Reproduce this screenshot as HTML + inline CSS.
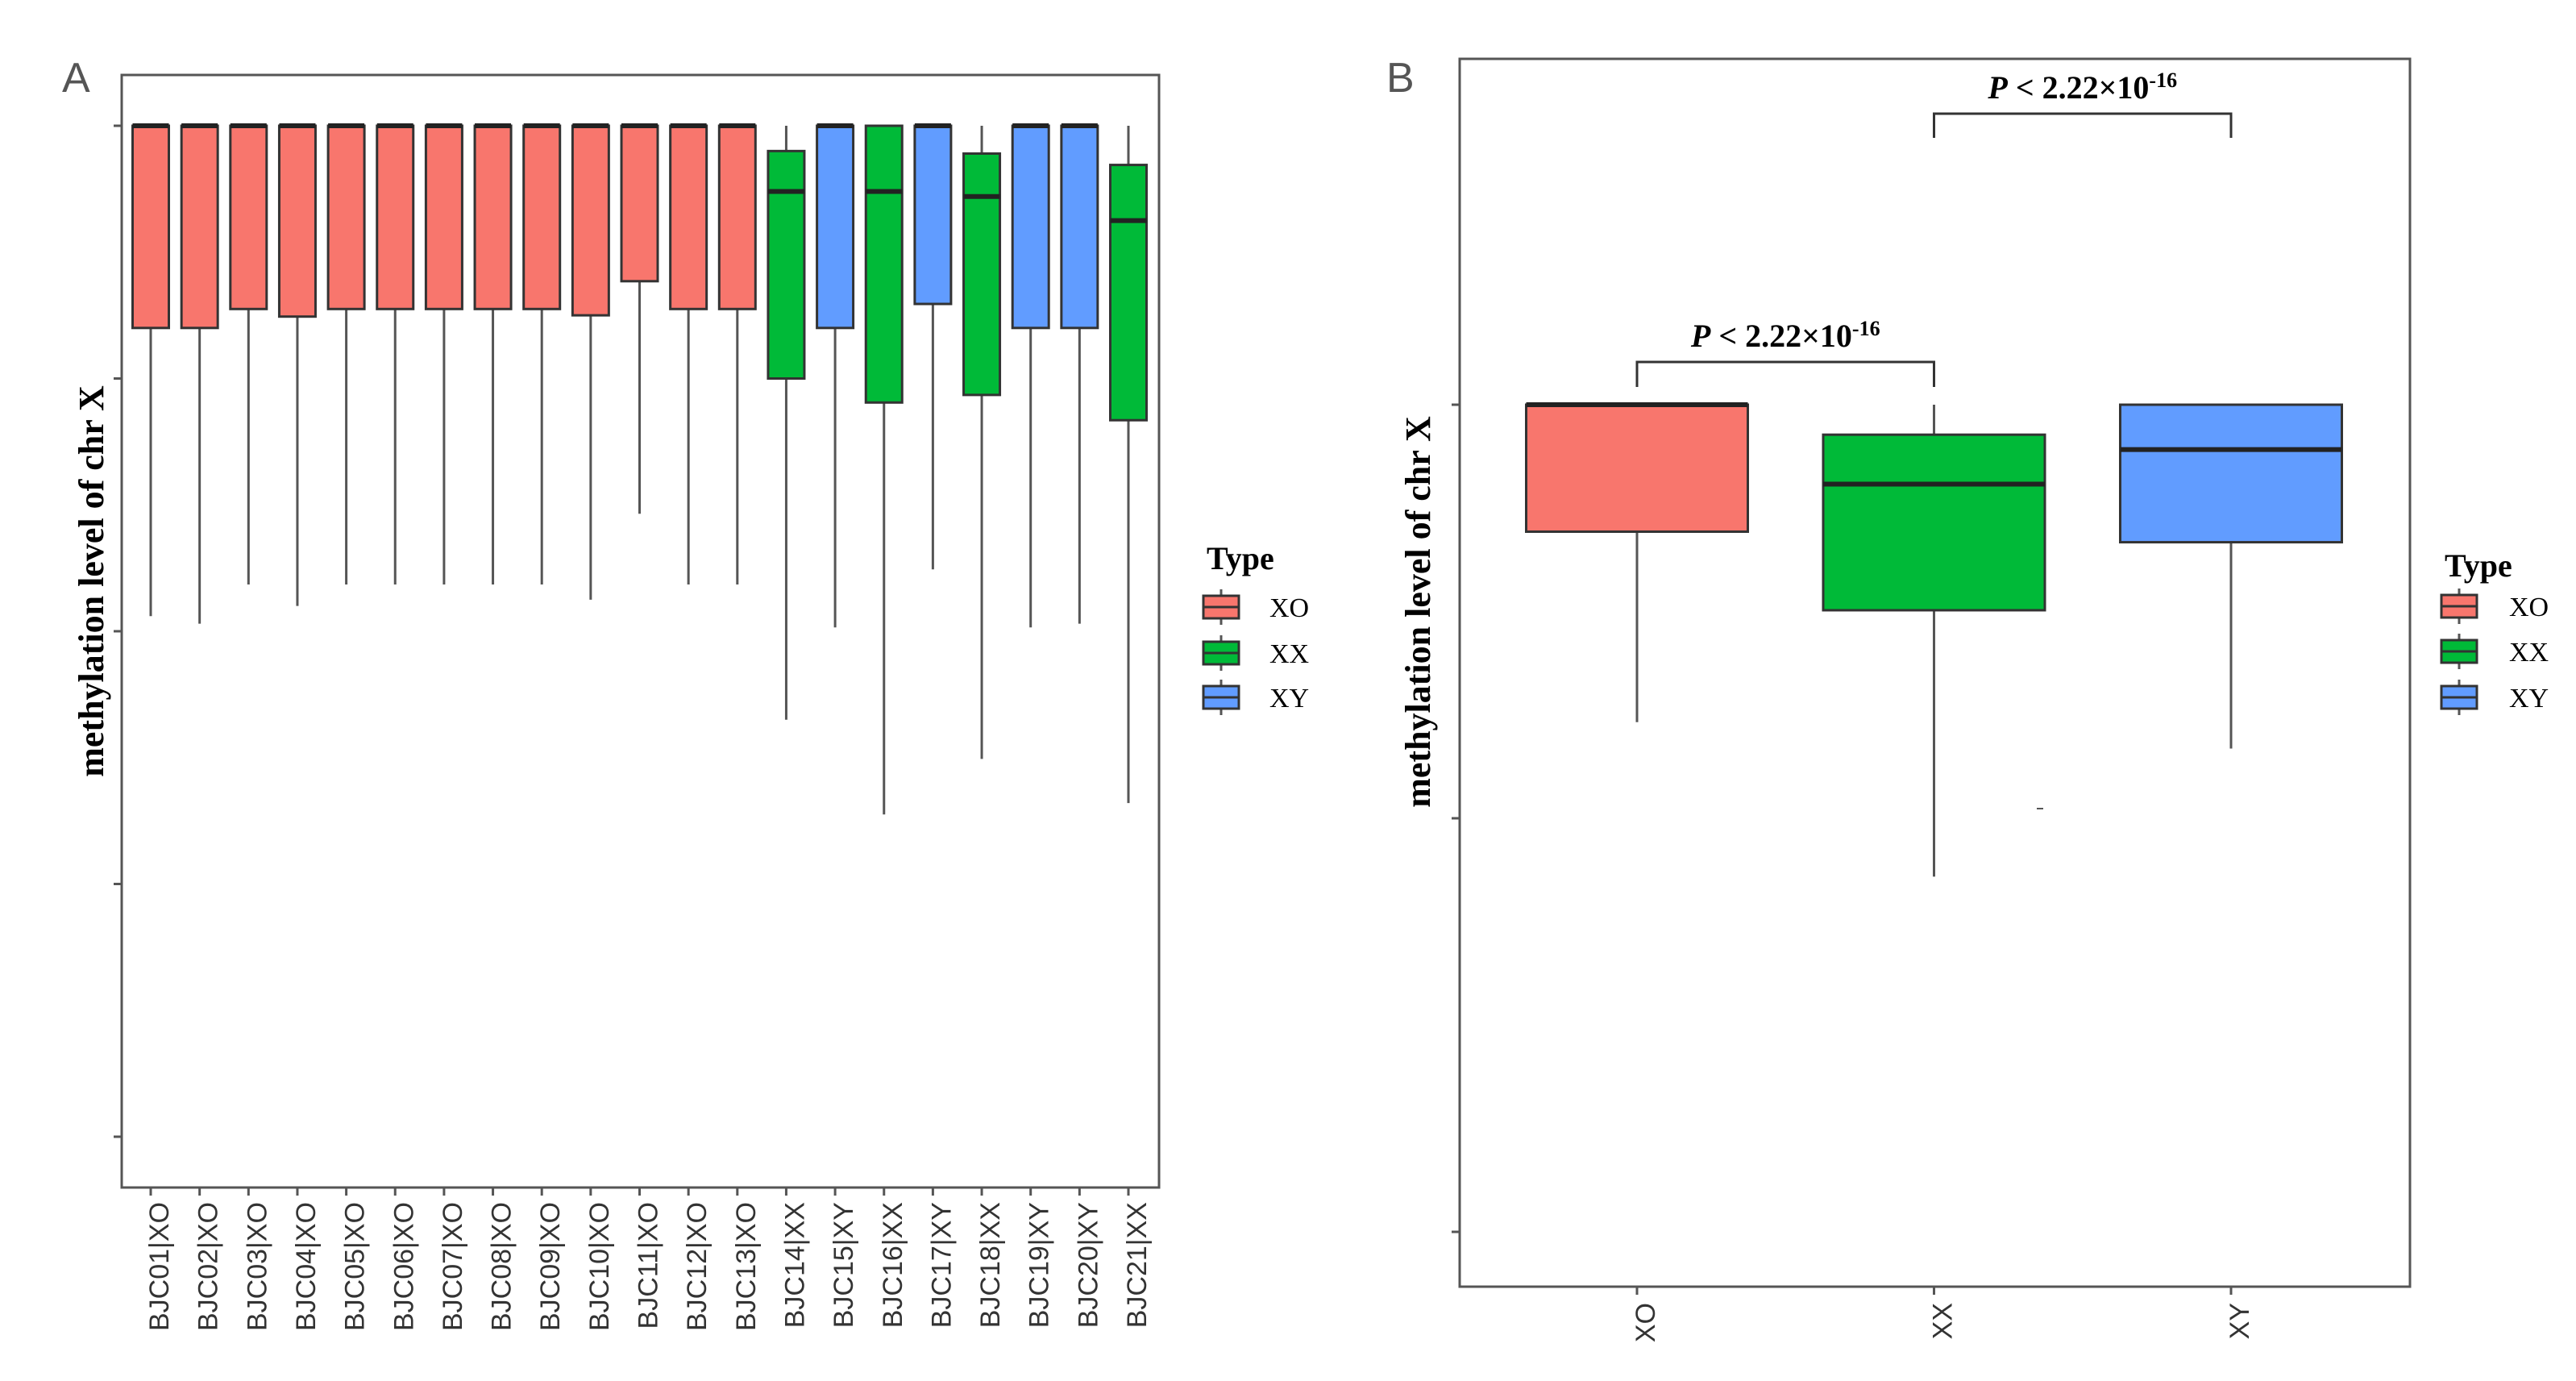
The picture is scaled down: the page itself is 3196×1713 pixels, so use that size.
<!DOCTYPE html>
<html><head><meta charset="utf-8"><style>
html,body{margin:0;padding:0;background:#fff;width:3196px;height:1713px;overflow:hidden}
svg{display:block}
.ser{font-family:"Liberation Serif",serif}
.san{font-family:"Liberation Sans",sans-serif}
</style></head><body>
<svg id="fig" width="3196" height="1713" viewBox="0 0 3196 1713" xmlns="http://www.w3.org/2000/svg">
<text x="77" y="114" class="san" font-size="52" fill="#555">A</text>
<text x="1720" y="114" class="san" font-size="52" fill="#555">B</text>
<rect x="151" y="93" width="1287" height="1380" fill="none" stroke="#555" stroke-width="3"/>
<rect x="1811" y="73" width="1179" height="1523" fill="none" stroke="#555" stroke-width="3"/>
<text transform="translate(128,721) rotate(-90)" text-anchor="middle" class="ser" font-weight="bold" font-size="44">methylation level of chr X</text>
<text transform="translate(1774,759) rotate(-90)" text-anchor="middle" class="ser" font-weight="bold" font-size="44">methylation level of chr X</text>
<g id="gA"></g><g id="gB"></g>
<g id="legA"></g><g id="legB"></g>
</svg>
<script>
// Panel A data
const samplesA = ["BJC01|XO","BJC02|XO","BJC03|XO","BJC04|XO","BJC05|XO","BJC06|XO","BJC07|XO","BJC08|XO","BJC09|XO","BJC10|XO","BJC11|XO","BJC12|XO","BJC13|XO","BJC14|XX","BJC15|XY","BJC16|XX","BJC17|XY","BJC18|XX","BJC19|XY","BJC20|XY","BJC21|XX"];
const typesA = ["XO","XO","XO","XO","XO","XO","XO","XO","XO","XO","XO","XO","XO","XX","XY","XX","XY","XX","XY","XY","XX"];
const upperA = [1,1,1,1,1,1,1,1,1,1,1,1,1,1,1,1,1,1,1,1,1];
const q3A = [1,1,1,1,1,1,1,1,1,1,1,1,1,0.980,1,1,1,0.978,1,1,0.969];
const medA = [1,1,1,1,1,1,1,1,1,1,1,1,1,0.948,1,0.948,1,0.944,1,1,0.925];
const q1A = [0.840,0.840,0.855,0.849,0.855,0.855,0.855,0.855,0.855,0.850,0.877,0.855,0.855,0.800,0.840,0.781,0.859,0.787,0.840,0.840,0.767];
const lowerA = [0.612,0.606,0.637,0.620,0.637,0.637,0.637,0.637,0.637,0.625,0.693,0.637,0.637,0.530,0.603,0.455,0.649,0.499,0.603,0.606,0.464];
const ticksA = [1.0,0.8,0.6,0.4,0.2];
// Panel B data
const groupsB = ["XO","XX","XY"];
const upperB = [1,1,1];
const q3B = [1,0.9855,1];
const medB = [1,0.9616,0.9783];
const q1B = [0.9386,0.9006,0.9335];
const lowerB = [0.8465,0.7718,0.8337];
const ticksB = [1.0,0.8,0.6];
const pLabels = ["P < 2.22×10","P < 2.22×10"];
const pPairs = [[0,1],[1,2]];

const colors = {XO:"#F8766D",XX:"#00BA38",XY:"#619CFF"};
const NS="http://www.w3.org/2000/svg";
function mk(tag,attrs,parent){const e=document.createElementNS(NS,tag);for(const k in attrs)e.setAttribute(k,attrs[k]);parent.appendChild(e);return e;}

const yA = v => 156 + (1 - v) / 0.2 * 313.5;
const xA = i => 187 + i * 60.65;
const yB = v => 502 + (1 - v) / 0.2 * 513;
const xB = i => 2031 + i * 368.5;

function drawBox(g,cx,w,yf,up,q3,med,q1,lo,fill){
  const wl=mk('line',{x1:cx,x2:cx,y1:yf(up),y2:yf(lo),stroke:'#555','stroke-width':3},g);
  
  
  const r=mk('rect',{x:cx-w/2,y:yf(q3),width:w,height:Math.max(1,yf(q1)-yf(q3)),fill:fill,stroke:'#333','stroke-width':3},g);
  
  
  const m=mk('line',{x1:cx-w/2,x2:cx+w/2,y1:yf(med),y2:yf(med),stroke:'#222','stroke-width':6},g);
  
  
}

const gA=document.getElementById('gA');
ticksA.forEach(t=>{
  const l=mk('line',{x1:141,x2:151,y1:yA(t),y2:yA(t),stroke:'#555','stroke-width':3},gA);
  
  
});
samplesA.forEach((s,i)=>{
  const cx=xA(i);
  drawBox(gA,cx,45,yA,upperA[i],q3A[i],medA[i],q1A[i],lowerA[i],colors[typesA[i]]);
  const tk=mk('line',{x1:cx,x2:cx,y1:1473,y2:1483,stroke:'#555','stroke-width':3},gA);
  
  
  const t=mk('text',{transform:`translate(${cx+22},1491) rotate(-90)`,'text-anchor':'end','font-size':34,'class':'san',fill:'#333'},gA);
  t.textContent=s;
  
  
});

const gB=document.getElementById('gB');
ticksB.forEach(t=>{
  const l=mk('line',{x1:1801,x2:1811,y1:yB(t),y2:yB(t),stroke:'#555','stroke-width':3},gB);
  
  
});
groupsB.forEach((g,i)=>{
  const cx=xB(i);
  drawBox(gB,cx,275,yB,upperB[i],q3B[i],medB[i],q1B[i],lowerB[i],colors[g]);
  const tk=mk('line',{x1:cx,x2:cx,y1:1596,y2:1606,stroke:'#555','stroke-width':3},gB);
  
  
  const t=mk('text',{transform:`translate(${cx+22},1616) rotate(-90)`,'text-anchor':'end','font-size':34,'class':'san',fill:'#333'},gB);
  t.textContent=g;
  
  
});
const out=mk('line',{x1:2527,x2:2535,y1:1003,y2:1003,stroke:'#555','stroke-width':2},gB);


const brY=[[449,480],[141,171]];
pPairs.forEach((p,k)=>{
  const x1=xB(p[0]),x2=xB(p[1]),[top,bot]=brY[k];
  const br=mk('path',{d:`M${x1},${bot}V${top}H${x2}V${bot}`,fill:'none',stroke:'#333','stroke-width':3},gB);
  
  
  const t=mk('text',{x:(x1+x2)/2,y:top-19,'text-anchor':'middle','font-size':40,'font-weight':'bold','class':'ser'},gB);
  
  
  const ts=mk('tspan',{'font-style':'italic'},t); ts.textContent='P';
  const t2=mk('tspan',{},t); t2.textContent=pLabels[k].slice(1);
  const t3=mk('tspan',{dy:-14,'font-size':26},t); t3.textContent='-16';
});

function legend(gid,x,yTitle,ys,lx){
  const g=document.getElementById(gid);
  const tt=mk('text',{x:x,y:yTitle,'font-size':40,'font-weight':'bold','class':'ser'},g);
  tt.textContent='Type';
  
  
  ["XO","XX","XY"].forEach((k,i)=>{
    const cy=ys[i];
    const kx=x-4;
    const w=mk('line',{x1:kx+22,x2:kx+22,y1:cy-22,y2:cy+22,stroke:'#555','stroke-width':3},g);
    
    
    const r=mk('rect',{x:kx,y:cy-14,width:44,height:28,fill:colors[k],stroke:'#333','stroke-width':3},g);
    
    
    const m=mk('line',{x1:kx,x2:kx+44,y1:cy,y2:cy,stroke:'#333','stroke-width':3},g);
    
    
    const t=mk('text',{x:lx,y:cy+12,'font-size':34,'class':'ser'},g);
    t.textContent=k;
    
    
  });
}
legend('legA',1497,706,[753,810,865],1575);
legend('legB',3033,715,[752,808,865],3113);
</script>
</body></html>
